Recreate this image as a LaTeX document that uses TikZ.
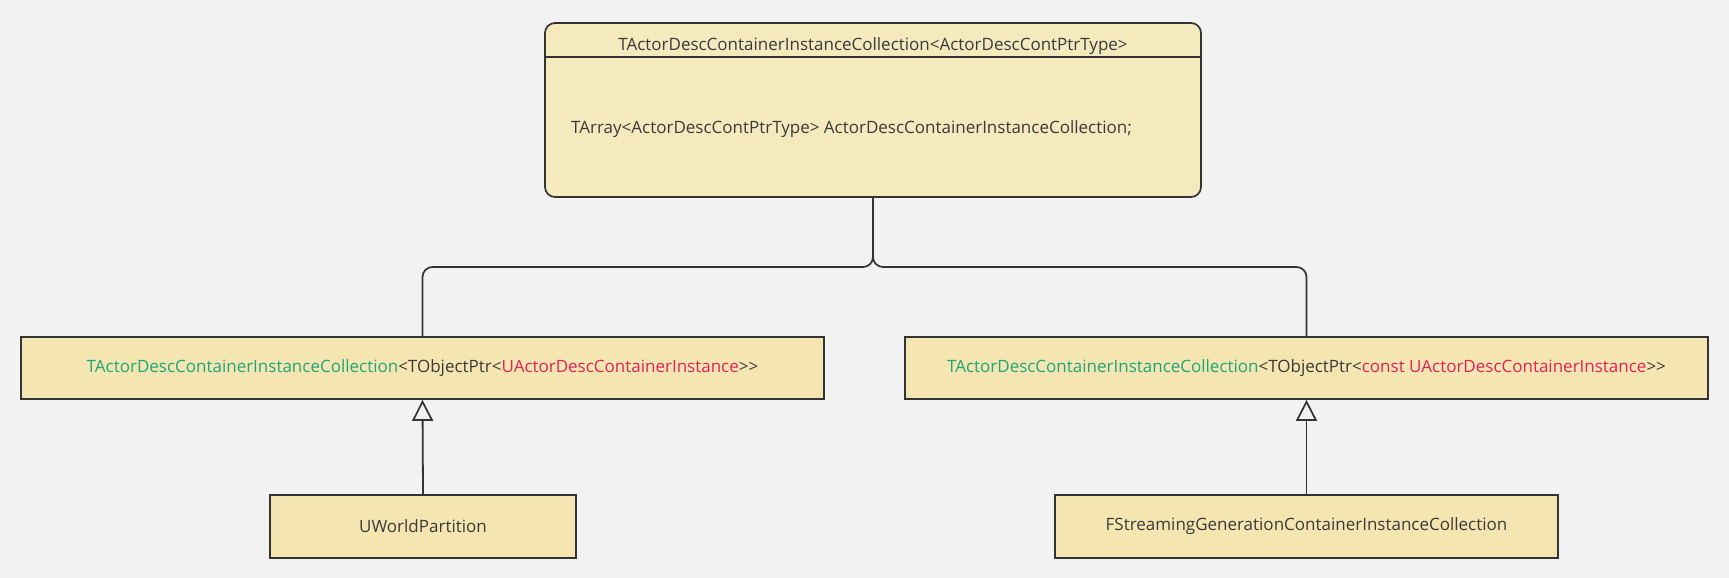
\documentclass[tikz,border=0pt]{standalone}
\usepackage{fontspec}
\setmainfont{Open Sans}
\usepackage{xcolor}
\usepackage{tikz}
\usetikzlibrary{arrows.meta,positioning}
\definecolor{umlBack}{HTML}{F2F2F2}
\definecolor{umlFill}{HTML}{F5E6B1}
\definecolor{umlPale}{HTML}{F5EABE}
\definecolor{umlLine}{HTML}{333333}
\definecolor{umlText}{HTML}{3A3A3A}
\definecolor{typeGreen}{HTML}{1DA57C}
\definecolor{typeRed}{HTML}{E0215B}
\newcommand{\tgreen}[1]{\textcolor{typeGreen}{#1}}
\newcommand{\tred}[1]{\textcolor{typeRed}{#1}}
\tikzset{
  classbox/.style={
    rectangle,
    draw=umlLine,
    line width=1.7pt,
    fill=umlFill,
    align=center,
    text=umlText,
    font=\fontsize{17}{20}\selectfont,
    inner sep=0pt
  },
  templatebox/.style={classbox, fill=umlPale, rounded corners=10pt},
  label/.style={text=umlText, font=\fontsize{17}{20}\selectfont, inner sep=0pt},
  link/.style={draw=umlLine, line width=1.7pt, rounded corners=10pt},
  inherit/.style={-{Triangle[open, length=21pt, width=21pt, line width=1.7pt]}, draw=umlLine, line width=1.8pt}
}

\begin{document}
\begin{tikzpicture}[x=1pt, y=-1pt]
  \useasboundingbox[fill=umlBack] (0,0) rectangle (1729,578);

  \node[templatebox, minimum width=656pt, minimum height=174pt] (coll) at (873,110) {};
  \coordinate (sepL) at (545,57);
  \coordinate (sepR) at (1201,57);
  \draw[umlLine, line width=1.7pt] (sepL) -- (sepR);
  \node[label] (collName) at (873,46) {TActorDescContainerInstanceCollection<ActorDescContPtrType>};
  \node[label, anchor=west] (collMember) at (571,129) {TArray<ActorDescContPtrType> ActorDescContainerInstanceCollection;};

  \node[classbox, minimum width=803pt, minimum height=62pt] (ptrColl) at (422.5,368) {\tgreen{TActorDescContainerInstanceCollection}<TObjectPtr<\tred{UActorDescContainerInstance}>{}>};
  \node[classbox, minimum width=803pt, minimum height=62pt] (constPtrColl) at (1306.5,368) {\tgreen{TActorDescContainerInstanceCollection}<TObjectPtr<\tred{const UActorDescContainerInstance}>{}>};

  \node[classbox, minimum width=306pt, minimum height=63pt] (worldPartition) at (423,526.5) {UWorldPartition};
  \node[classbox, minimum width=503pt, minimum height=63pt] (streamingColl) at (1306.5,526.5) {FStreamingGenerationContainerInstanceCollection};

  \coordinate (split) at (873,267);
  \draw[link] (coll.south) -- (split) -| (ptrColl.north);
  \draw[link] (coll.south) -- (split) -| (constPtrColl.north);

  \draw[inherit] (worldPartition.north) -- (ptrColl.south);
  \draw[inherit] (streamingColl.north) -- (constPtrColl.south);
\end{tikzpicture}
\end{document}
